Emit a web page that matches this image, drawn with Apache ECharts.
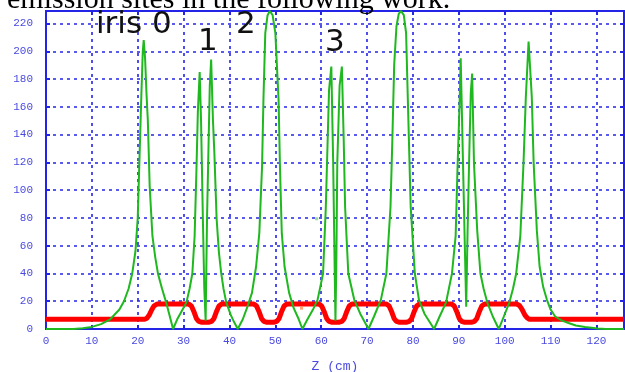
<!DOCTYPE html>
<html>
<head>
<meta charset="utf-8">
<script src="https://cdn.jsdelivr.net/npm/echarts@6/dist/echarts.min.js"></script>
<style>
  html, body { margin: 0; padding: 0; background: #ffffff; }
  #chart { width: 625px; height: 372px; }
</style>
</head>
<body>
<div id="chart"></div>
<script>
// Axial field amplitude along the structure (green trace)
const fieldZ = [0, 6, 8, 10, 12, 14, 16, 17, 18, 18.8, 19.5, 20, 20.4, 20.8, 21.1, 21.3, 21.6, 21.9, 22.2, 22.6,
  23.2, 23.8, 24.4, 25.3, 26.2, 27, 27.7, 28.6, 29.6, 30.6, 31.3, 31.9, 32.4, 32.8, 33.1, 33.5, 33.8, 34.2, 34.5, 34.8,
  35.1, 35.4, 35.7, 36.0, 36.4, 36.7, 37.2, 37.7, 38.2, 38.7, 39.3, 40.3, 41.0, 41.8, 42.9, 43.9, 44.9, 45.8, 46.5, 47.1,
  47.4, 47.8, 48.3, 48.8, 49.4, 50.0, 50.7, 51.0, 51.4, 52.0, 53.0, 54.0, 55.1, 55.9, 57.0, 58.2, 59.2, 60.4, 61.0, 61.4,
  61.7, 62.2, 62.6, 62.9, 63.1, 63.3, 63.5, 64.0, 64.5, 64.9, 65.2, 65.9, 67.2, 68.5, 70.3, 71.5, 73.0, 74.2, 75.1, 75.5,
  75.9, 76.4, 76.9, 77.4, 78.0, 78.5, 79.0, 79.5, 80.4, 81.3, 82.5, 84.6, 85.8, 87.2, 88.5, 89.3, 89.7, 90.2, 90.4, 90.7,
  90.9, 91.3, 91.6, 91.9, 92.3, 92.6, 92.9, 93.3, 94.0, 94.7, 95.4, 96.2, 97.4, 98.7, 99.8, 101.0, 101.8, 102.5, 103.4, 104.1,
  104.6, 105.2, 105.9, 106.3, 107.0, 107.6, 108.4, 109.2, 110.0, 111.0, 112.5, 113.9, 115.5, 117.5, 120.3, 122, 126];
const fieldE = [0, 0, 0.5, 1.5, 3.5, 7, 14, 20, 29, 40, 56, 80, 125, 170, 200, 208, 195, 170, 150, 103,
  67, 52, 40, 29, 19, 9, 0, 7, 13, 19, 29, 40, 67, 115, 156, 185, 150, 79, 30, 6,
  79, 127, 175, 194, 150, 127, 79, 55, 40, 29, 19, 10, 5, 0, 7, 16, 26, 45, 69, 117,
  165, 213, 226, 229, 226, 213, 165, 117, 69, 45, 26, 15, 7, 0, 7, 14, 21, 40, 88, 136,
  172, 189, 120, 50, 6, 50, 120, 175, 189, 136, 88, 40, 21, 11, 0, 9, 21, 40, 88, 136,
  190, 218, 227, 229, 226, 213, 150, 88, 40, 21, 11, 0, 9, 19, 40, 67, 115, 167, 195, 150,
  120, 60, 16, 70, 130, 170, 184, 119, 71, 40, 29, 19, 9, 0, 9, 19, 29, 40, 67, 120,
  167, 207, 167, 120, 71, 45, 30, 21, 14, 9, 6, 4.3, 2.5, 1.4, 0.3, 0, 0];

// Iris aperture profile (red trace)
const irisZ = [0, 21.5, 22.0, 22.5, 23.0, 23.5, 24.2,
  31.1, 31.7, 32.3, 32.8, 33.3, 34.0, 35.4, 36.1, 36.6, 37.1, 37.7, 38.3,
  45.3, 45.9, 46.5, 47.0, 47.5, 48.2, 49.6, 50.3, 50.8, 51.3, 51.9, 52.5,
  59.5, 60.1, 60.7, 61.2, 61.7, 62.4, 63.8, 64.5, 65.0, 65.5, 66.1, 66.7,
  74.2, 74.8, 75.4, 75.9, 76.4, 77.1, 78.5, 79.2, 79.7, 80.2, 80.8, 81.4,
  88.4, 89.0, 89.6, 90.1, 90.6, 91.3, 92.7, 93.4, 93.9, 94.4, 95.0, 95.6,
  102.6, 103.2, 103.8, 104.4, 104.9, 105.4, 126];
const irisR = [7, 7, 7.8, 10, 13.5, 16.5, 18,
  18, 16.5, 12, 7.5, 5.5, 4.8, 4.8, 5.5, 7.5, 12, 16.5, 18,
  18, 16.5, 12, 7.5, 5.5, 4.8, 4.8, 5.5, 7.5, 12, 16.5, 18,
  18, 16.5, 12, 7.5, 5.5, 4.8, 4.8, 5.5, 7.5, 12, 16.5, 18,
  18, 16.5, 12, 7.5, 5.5, 4.8, 4.8, 5.5, 7.5, 12, 16.5, 18,
  18, 16.5, 12, 7.5, 5.5, 4.8, 4.8, 5.5, 7.5, 12, 16.5, 18,
  18, 17, 14, 10, 8, 7, 7];

// Stray plotted markers
const strayField = [[59.0, 79.4]];
const strayIris = [[55.7, 15]];

// Axis ranges and tick spacing
const zMin = 0, zMax = 126, zStep = 10;
const eMin = 0, eMax = 229, eStep = 20;

// Callouts above the plot
const irisNotes = [
  { text: 'iris 0', x: 96, y: 25 },
  { text: '1', x: 198, y: 42 },
  { text: '2', x: 236, y: 25 },
  { text: '3', x: 325, y: 43 }
];
const headerText = 'emission sites in the following work.';
const axisTitle = 'Z (cm)';

const blue = '#2424e6';
const labelBlue = '#4a4ae0';
const gridLine = { show: true, lineStyle: { color: blue, width: 1.6, type: [3, 4] } };
const frameLine = { show: true, onZero: false, lineStyle: { color: blue, width: 2 } };
const tickIn = { show: true, inside: true, length: 4, lineStyle: { color: blue, width: 2 } };
const labelFont = { color: labelBlue, fontFamily: 'Liberation Mono', fontSize: 11 };

const chart = echarts.init(document.getElementById('chart'), null, { renderer: 'canvas' });

const option = {
  backgroundColor: '#ffffff',
  animation: false,
  grid: {
    left: 46, right: 1, top: 11, bottom: 43, outerBoundsMode: 'none',
    show: true, borderColor: blue, borderWidth: 2, backgroundColor: '#ffffff'
  },
  xAxis: [
    {
      type: 'value', min: zMin, max: zMax, interval: zStep, position: 'bottom',
      axisLine: frameLine, axisTick: tickIn, splitLine: gridLine,
      axisLabel: Object.assign({ margin: 7, formatter: v => (v % zStep === 0 ? String(v) : '') }, labelFont),
      name: axisTitle, nameLocation: 'middle', nameGap: 31,
      nameTextStyle: { color: labelBlue, fontFamily: 'Liberation Mono', fontSize: 13 }
    },
    {
      type: 'value', min: zMin, max: zMax, interval: zStep, position: 'top',
      axisLine: frameLine, axisTick: tickIn, splitLine: { show: false }, axisLabel: { show: false }
    }
  ],
  yAxis: [
    {
      type: 'value', min: eMin, max: eMax, interval: eStep, position: 'left',
      axisLine: frameLine, axisTick: tickIn, splitLine: gridLine,
      axisLabel: Object.assign({ margin: 13, formatter: v => (v % eStep === 0 ? String(v) : '') }, labelFont)
    },
    {
      type: 'value', min: eMin, max: eMax, interval: eStep, position: 'right',
      axisLine: frameLine, axisTick: tickIn, splitLine: { show: false }, axisLabel: { show: false }
    }
  ],
  series: [
    {
      name: 'iris', type: 'line', showSymbol: false, z: 2,
      data: irisZ.map((z, i) => [z, irisR[i]]),
      lineStyle: { color: '#ff0000', width: 5 }
    },
    {
      name: 'field', type: 'line', showSymbol: false, z: 3,
      data: fieldZ.map((z, i) => [z, fieldE[i]]),
      lineStyle: { color: '#1fb81f', width: 2 }
    },
    {
      type: 'scatter', symbol: 'rect', symbolSize: 3, z: 4,
      data: strayField, itemStyle: { color: '#7fd07f' }
    },
    {
      type: 'scatter', symbol: 'rect', symbolSize: 3, z: 4,
      data: strayIris, itemStyle: { color: '#ff8a50' }
    }
  ],
  graphic: [
    {
      type: 'text', x: 7, y: -15, z: 10,
      style: { text: headerText, font: '30px "Liberation Serif"', fill: '#000000' }
    }
  ].concat(irisNotes.map(n => ({
    type: 'text', x: n.x, y: n.y, z: 10,
    style: { text: n.text, font: '31px "DejaVu Sans"', fill: '#111111', verticalAlign: 'middle' }
  })))
};

chart.setOption(option);
</script>
</body>
</html>
